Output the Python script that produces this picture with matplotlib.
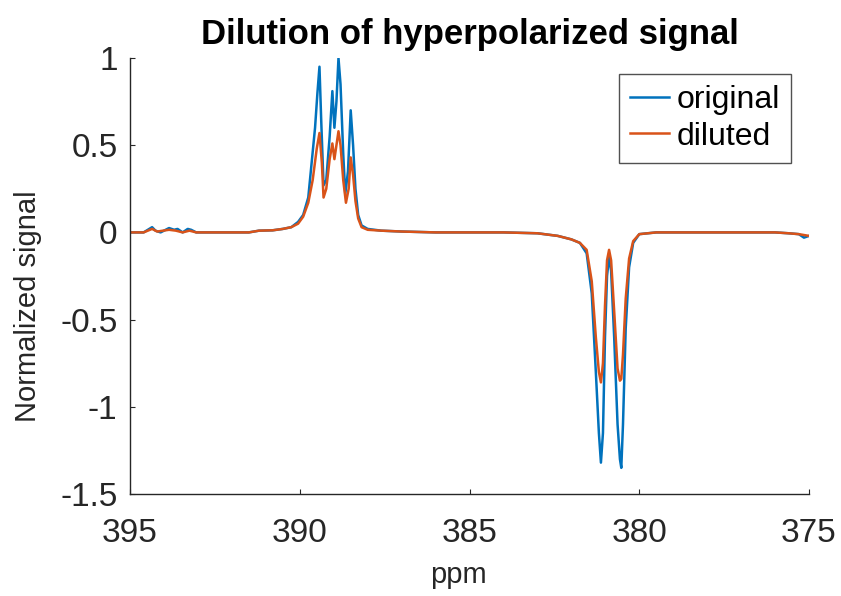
import matplotlib
matplotlib.use("Agg")
import matplotlib.pyplot as plt

plt.rcParams['font.family'] = ['Liberation Sans', 'DejaVu Sans']

# ppm positions and signal values
ppm_orig = [395.0, 394.6, 394.35, 394.25, 394.1, 393.85, 393.7, 393.6, 393.45, 393.3, 393.2, 393.05,
            392.5, 391.5, 391.2, 390.8, 390.5, 390.25, 390.05, 389.9, 389.75, 389.65, 389.55, 389.48,
            389.42, 389.37, 389.30, 389.22, 389.12, 389.04, 388.98, 388.92, 388.86, 388.80, 388.72,
            388.66, 388.58, 388.50, 388.43, 388.36, 388.28, 388.18, 388.0, 387.6, 387.0, 386.0,
            385.0, 384.0, 383.0, 382.4, 382.0, 381.75, 381.55, 381.40, 381.28, 381.19, 381.13,
            381.07, 381.01, 380.95, 380.89, 380.83, 380.74, 380.64, 380.57, 380.53, 380.48, 380.40,
            380.30, 380.18, 380.0, 379.5, 378.5, 377.5, 376.5, 376.0, 375.6, 375.3, 375.15, 375.0]
sig_orig = [0.0, 0.0, 0.03, 0.01, 0.0, 0.025, 0.015, 0.02, 0.0, 0.02, 0.015, 0.0,
            0.0, 0.0, 0.01, 0.012, 0.02, 0.03, 0.06, 0.1, 0.2, 0.4, 0.6, 0.8,
            0.95, 0.65, 0.27, 0.3, 0.55, 0.81, 0.6, 0.75, 1.0, 0.85, 0.45,
            0.22, 0.35, 0.70, 0.5, 0.25, 0.1, 0.04, 0.02, 0.01, 0.005, 0.0,
            0.0, 0.0, -0.005, -0.02, -0.04, -0.06, -0.12, -0.35, -0.8, -1.15, -1.32,
            -1.15, -0.6, -0.25, -0.14, -0.22, -0.6, -1.1, -1.3, -1.35, -1.1, -0.55,
            -0.2, -0.06, -0.01, 0.0, 0.0, 0.0, 0.0, 0.0, -0.005, -0.01, -0.03, -0.02]

ppm_dil = [395.0, 394.6, 394.35, 394.2, 393.85, 393.65, 393.45, 393.25, 393.05,
           392.5, 391.5, 391.2, 390.8, 390.5, 390.25, 390.05, 389.9, 389.75, 389.62, 389.50,
           389.42, 389.35, 389.30, 389.22, 389.12, 389.04, 388.98, 388.92, 388.86, 388.80,
           388.72, 388.64, 388.56, 388.50, 388.43, 388.36, 388.28, 388.18, 388.0, 387.6,
           387.0, 386.0, 385.0, 384.0, 383.0, 382.4, 382.0, 381.75, 381.55, 381.40, 381.28,
           381.19, 381.13, 381.07, 381.01, 380.95, 380.89, 380.83, 380.74, 380.64, 380.57,
           380.53, 380.48, 380.40, 380.30, 380.18, 380.0, 379.5, 378.5, 377.5, 376.5, 376.0,
           375.6, 375.3, 375.0]
sig_dil = [0.0, 0.0, 0.02, 0.005, 0.015, 0.01, 0.0, 0.01, 0.0,
           0.0, 0.0, 0.01, 0.012, 0.02, 0.03, 0.05, 0.09, 0.17, 0.3, 0.48,
           0.57, 0.4, 0.2, 0.25, 0.42, 0.51, 0.42, 0.5, 0.58, 0.5,
           0.3, 0.17, 0.25, 0.43, 0.33, 0.18, 0.08, 0.03, 0.015, 0.01,
           0.005, 0.0, 0.0, 0.0, -0.005, -0.02, -0.04, -0.06, -0.1, -0.28, -0.6,
           -0.8, -0.86, -0.75, -0.42, -0.16, -0.10, -0.16, -0.45, -0.78, -0.85,
           -0.84, -0.7, -0.38, -0.15, -0.05, -0.01, 0.0, 0.0, 0.0, 0.0, 0.0,
           -0.005, -0.01, -0.02]

x_ticks = [395, 390, 385, 380, 375]
y_ticks = [-1.5, -1, -0.5, 0, 0.5, 1]
y_tick_labels = ['-1.5', '-1', '-0.5', '0', '0.5', '1']

fig = plt.figure(figsize=(8.41, 5.96), dpi=100)
ax = fig.add_axes([0.1546, 0.1711, 0.962 - 0.1546, 0.9027 - 0.1711])

ax.plot(ppm_orig, sig_orig, color='#0072BD', lw=1.8, label='original')
ax.plot(ppm_dil, sig_dil, color='#D95319', lw=1.8, label='diluted')

ax.set_xlim(395, 375)
ax.set_ylim(-1.5, 1)
ax.set_xticks(x_ticks)
ax.set_yticks(y_ticks)
ax.set_yticklabels(y_tick_labels)

for s in ['top', 'right']:
    ax.spines[s].set_visible(False)
for s in ['left', 'bottom']:
    ax.spines[s].set_color('#262626')
    ax.spines[s].set_linewidth(1.0)
ax.tick_params(direction='in', length=3.6, width=0.8, colors='#262626',
               labelcolor='#262626', labelsize=24)
ax.tick_params(axis='x', pad=17)
ax.tick_params(axis='y', pad=9)

ax.set_xlabel('ppm', fontsize=21, color='#262626')
ax.set_ylabel('Normalized signal', fontsize=21, color='#262626')
ax.xaxis.set_label_coords(0.483, -0.1537)
ax.yaxis.set_label_coords(-0.1296, 0.43)
ax.set_title('Dilution of hyperpolarized signal', fontsize=25, fontweight='bold',
             color='#000000', pad=10)

leg = ax.legend(loc='upper right', bbox_to_anchor=(0.9735, 0.9633), fontsize=23,
                frameon=True, fancybox=False, edgecolor='#262626', handlelength=1.2,
                handletextpad=0.25, borderpad=0.35, labelspacing=0.2, borderaxespad=0)
leg.get_frame().set_linewidth(1.0)

fig.savefig('out.png', dpi=100)
